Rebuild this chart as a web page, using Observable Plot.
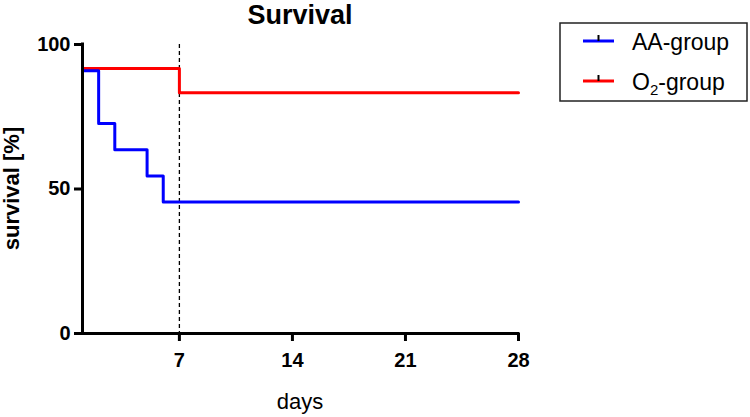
<!DOCTYPE html>
<html>
<head>
<meta charset="utf-8">
<script src="https://cdn.jsdelivr.net/npm/d3@7"></script>
<script src="https://cdn.jsdelivr.net/npm/@observablehq/plot@0.6"></script>
<style>
  html, body { margin: 0; padding: 0; background: #fff; }
  svg { font-family: "Liberation Sans", Arial, sans-serif; }
  g[aria-label="x-axis tick label"] text, g[aria-label="y-axis tick label"] text { font-weight: bold; font-size: 20px; fill: #000; }
</style>
</head>
<body>
<div id="chart"></div>
<script>
// ---- data ----
const groups = ["AA-group", "O2-group"];
const colors = ["#0000ff", "#ff0000"];
const daysAA = [1, 2, 3, 5, 6, 28];
const survAA = [90.9, 72.7, 63.6, 54.5, 45.5, 45.5];
const daysO2 = [1, 7, 28];
const survO2 = [91.7, 83.3, 83.3];
const xTicks = [7, 14, 21, 28];
const yTicks = [0, 50, 100];
const markerDay = [7];

const aa = daysAA.map((d, i) => ({day: d, surv: survAA[i], group: groups[0]}));
const o2 = daysO2.map((d, i) => ({day: d, surv: survO2[i], group: groups[1]}));

const W = 750, H = 417;
const plot = Plot.plot({
  width: W, height: H,
  marginLeft: 82, marginRight: 232, marginTop: 44, marginBottom: 84,
  style: {background: "#fff", fontFamily: "Liberation Sans, Arial, sans-serif"},
  x: {domain: [1, 28]},
  y: {domain: [0, 100]},
  marks: [
    Plot.ruleX(markerDay, {stroke: "#000", strokeWidth: 1.3, strokeDasharray: "4,3"}),
    Plot.line(o2, {x: "day", y: "surv", curve: "step-after", stroke: colors[1], strokeWidth: 3}),
    Plot.line(aa, {x: "day", y: "surv", curve: "step-after", stroke: colors[0], strokeWidth: 3}),
    Plot.axisX({ticks: xTicks, tickSize: 8, tickPadding: 11, strokeWidth: 3, stroke: "#000", label: null, fontSize: 20, fontWeight: "bold"}),
    Plot.axisY({ticks: yTicks, tickSize: 8, tickPadding: 4, strokeWidth: 3, stroke: "#000", label: null, fontSize: 20, fontWeight: "bold"}),
    Plot.ruleX([1], {y1: 0, y2: 100, stroke: "#000", strokeWidth: 3, strokeLinecap: "square"}),
    Plot.ruleY([0], {x1: 1, x2: 28, stroke: "#000", strokeWidth: 3, strokeLinecap: "square"})
  ]
});
document.getElementById("chart").appendChild(plot);

const svg = d3.select(plot);
const xs = plot.scale("x"), ys = plot.scale("y");
const cx = (xs.apply(1) + xs.apply(28)) / 2;
const cy = (ys.apply(0) + ys.apply(100)) / 2;

// title
svg.append("text").attr("x", cx).attr("y", 24).attr("text-anchor", "middle")
  .attr("font-size", 27).attr("font-weight", "bold").attr("fill", "#000").text("Survival");
// x label
svg.append("text").attr("x", cx).attr("y", 409).attr("text-anchor", "middle")
  .attr("font-size", 22).attr("fill", "#000").text("days");
// y label
svg.append("text").attr("transform", `translate(19,${cy}) rotate(-90)`).attr("text-anchor", "middle")
  .attr("font-size", 22).attr("font-weight", "bold").attr("fill", "#000").text("survival [%]");

// legend
const lg = svg.append("g").attr("text-anchor", "start");
lg.append("rect").attr("x", 560).attr("y", 23).attr("width", 187).attr("height", 78)
  .attr("fill", "#fff").attr("stroke", "#222").attr("stroke-width", 1.5);
const rowsY = [41, 81];
groups.forEach((g, i) => {
  const y = rowsY[i];
  lg.append("line").attr("x1", 583).attr("x2", 614).attr("y1", y).attr("y2", y)
    .attr("stroke", colors[i]).attr("stroke-width", 3);
  lg.append("line").attr("x1", 598.5).attr("x2", 598.5).attr("y1", y - 6).attr("y2", y)
    .attr("stroke", "#000").attr("stroke-width", 2);
  const t = lg.append("text").attr("x", 632).attr("y", y + 9).attr("text-anchor", "start")
    .attr("font-size", 23).attr("fill", "#000");
  if (g === "O2-group") {
    t.append("tspan").text("O");
    t.append("tspan").attr("font-size", 15).attr("dy", 5).text("2");
    t.append("tspan").attr("dy", -5).text("-group");
  } else {
    t.text(g);
  }
});
</script>
</body>
</html>
